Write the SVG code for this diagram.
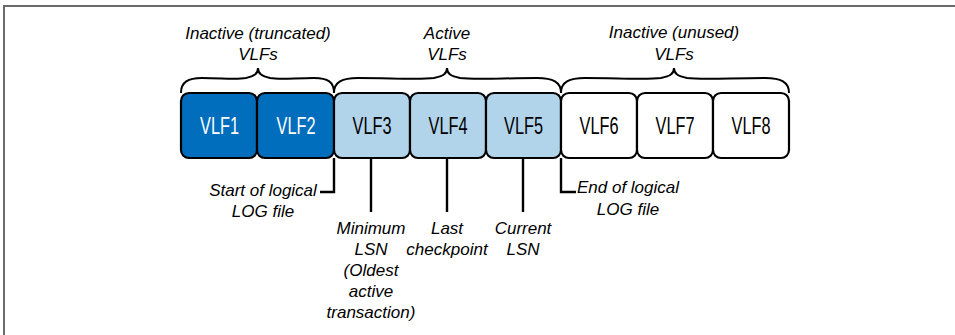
<svg xmlns="http://www.w3.org/2000/svg" width="955" height="335" viewBox="0 0 955 335">
  <style>
    .box { stroke: #000; stroke-width: 2.2; }
    .dark { fill: #006EBD; }
    .light { fill: #B2D4EA; }
    .white { fill: #FFFFFF; }
    .vlf { font-family: "Liberation Sans", "DejaVu Sans", sans-serif; font-size: 23px; text-anchor: middle; }
    .vlf-w { fill: #FFFFFF; }
    .vlf-b { fill: #000000; }
    .lbl { font-family: "Liberation Sans", "DejaVu Sans", sans-serif; font-size: 17px; font-style: italic; fill: #000; }
    .mid { text-anchor: middle; }
    .brace { fill: none; stroke: #000; stroke-width: 2; }
    .conn { fill: none; stroke: #000; stroke-width: 2.4; }
  </style>
  <rect x="0" y="0" width="955" height="335" fill="#FFFFFF"/>
  <path d="M4,335 L4,6 L955,6" fill="none" stroke="#6b6b6b" stroke-width="2"/>

  <g id="braces">
    <path class="brace" d="M181,93 C181,82 188,78 202,78 C222,78 236,80 246,78 C254,76 258,74 258,68 C258,74 262,76 270,78 C280,80 294,78 314,78 C328,78 334,82 334,93"/>
    <path class="brace" d="M334,93 C334,82 342,78 358,78 C390,78 420,80 434,78 C443,76 447,74 447,68 C447,74 451,76 460,78 C474,80 504,78 537,78 C553,78 561,82 561,93"/>
    <path class="brace" d="M561,93 C561,82 569,78 585,78 C617,78 647,80 661,78 C670,76 674,74 674,68 C674,74 678,76 687,78 C701,80 731,78 765,78 C781,78 789,82 789,93"/>
  </g>

  <g id="group-labels">
    <text class="lbl mid" x="258" y="39">Inactive (truncated)</text>
    <text class="lbl mid" x="258" y="60">VLFs</text>
    <text class="lbl mid" x="447" y="39">Active</text>
    <text class="lbl mid" x="447" y="60">VLFs</text>
    <text class="lbl mid" x="674" y="38">Inactive (unused)</text>
    <text class="lbl mid" x="674" y="60">VLFs</text>
  </g>

  <g id="vlf1"><rect class="box dark" x="181" y="93" width="76" height="65" rx="8"/><text class="vlf vlf-w" x="219.5" y="133.5" textLength="39" lengthAdjust="spacingAndGlyphs">VLF1</text></g>
  <g id="vlf2"><rect class="box dark" x="257" y="93" width="77" height="65" rx="8"/><text class="vlf vlf-w" x="296" y="133.5" textLength="39" lengthAdjust="spacingAndGlyphs">VLF2</text></g>
  <g id="vlf3"><rect class="box light" x="334" y="93" width="76" height="65" rx="8"/><text class="vlf vlf-b" x="372" y="133.5" textLength="39" lengthAdjust="spacingAndGlyphs">VLF3</text></g>
  <g id="vlf4"><rect class="box light" x="410" y="93" width="76" height="65" rx="8"/><text class="vlf vlf-b" x="448" y="133.5" textLength="39" lengthAdjust="spacingAndGlyphs">VLF4</text></g>
  <g id="vlf5"><rect class="box light" x="486" y="93" width="75" height="65" rx="8"/><text class="vlf vlf-b" x="523.5" y="133.5" textLength="39" lengthAdjust="spacingAndGlyphs">VLF5</text></g>
  <g id="vlf6"><rect class="box white" x="561" y="93" width="76" height="65" rx="8"/><text class="vlf vlf-b" x="599" y="133.5" textLength="39" lengthAdjust="spacingAndGlyphs">VLF6</text></g>
  <g id="vlf7"><rect class="box white" x="637" y="93" width="76" height="65" rx="8"/><text class="vlf vlf-b" x="675" y="133.5" textLength="39" lengthAdjust="spacingAndGlyphs">VLF7</text></g>
  <g id="vlf8"><rect class="box white" x="713" y="93" width="76" height="65" rx="8"/><text class="vlf vlf-b" x="751" y="133.5" textLength="39" lengthAdjust="spacingAndGlyphs">VLF8</text></g>

  <g id="connectors">
    <path class="conn" d="M334,158 L334,192 L320,192"/>
    <path class="conn" d="M371,158 L371,212"/>
    <path class="conn" d="M447,158 L447,212"/>
    <path class="conn" d="M523,158 L523,212"/>
    <path class="conn" d="M561,158 L561,192 L576,192"/>
  </g>

  <g id="start-label">
    <text class="lbl mid" x="263" y="196">Start of logical</text>
    <text class="lbl mid" x="263" y="217">LOG file</text>
  </g>
  <g id="min-lsn-label">
    <text class="lbl mid" x="371" y="234">Minimum</text>
    <text class="lbl mid" x="371" y="255">LSN</text>
    <text class="lbl mid" x="371" y="276">(Oldest</text>
    <text class="lbl mid" x="371" y="297">active</text>
    <text class="lbl mid" x="371" y="318">transaction)</text>
  </g>
  <g id="checkpoint-label">
    <text class="lbl mid" x="447" y="234">Last</text>
    <text class="lbl mid" x="447" y="255">checkpoint</text>
  </g>
  <g id="current-lsn-label">
    <text class="lbl mid" x="523" y="234">Current</text>
    <text class="lbl mid" x="523" y="255">LSN</text>
  </g>
  <g id="end-label">
    <text class="lbl mid" x="628" y="193">End of logical</text>
    <text class="lbl mid" x="628" y="215">LOG file</text>
  </g>
</svg>
